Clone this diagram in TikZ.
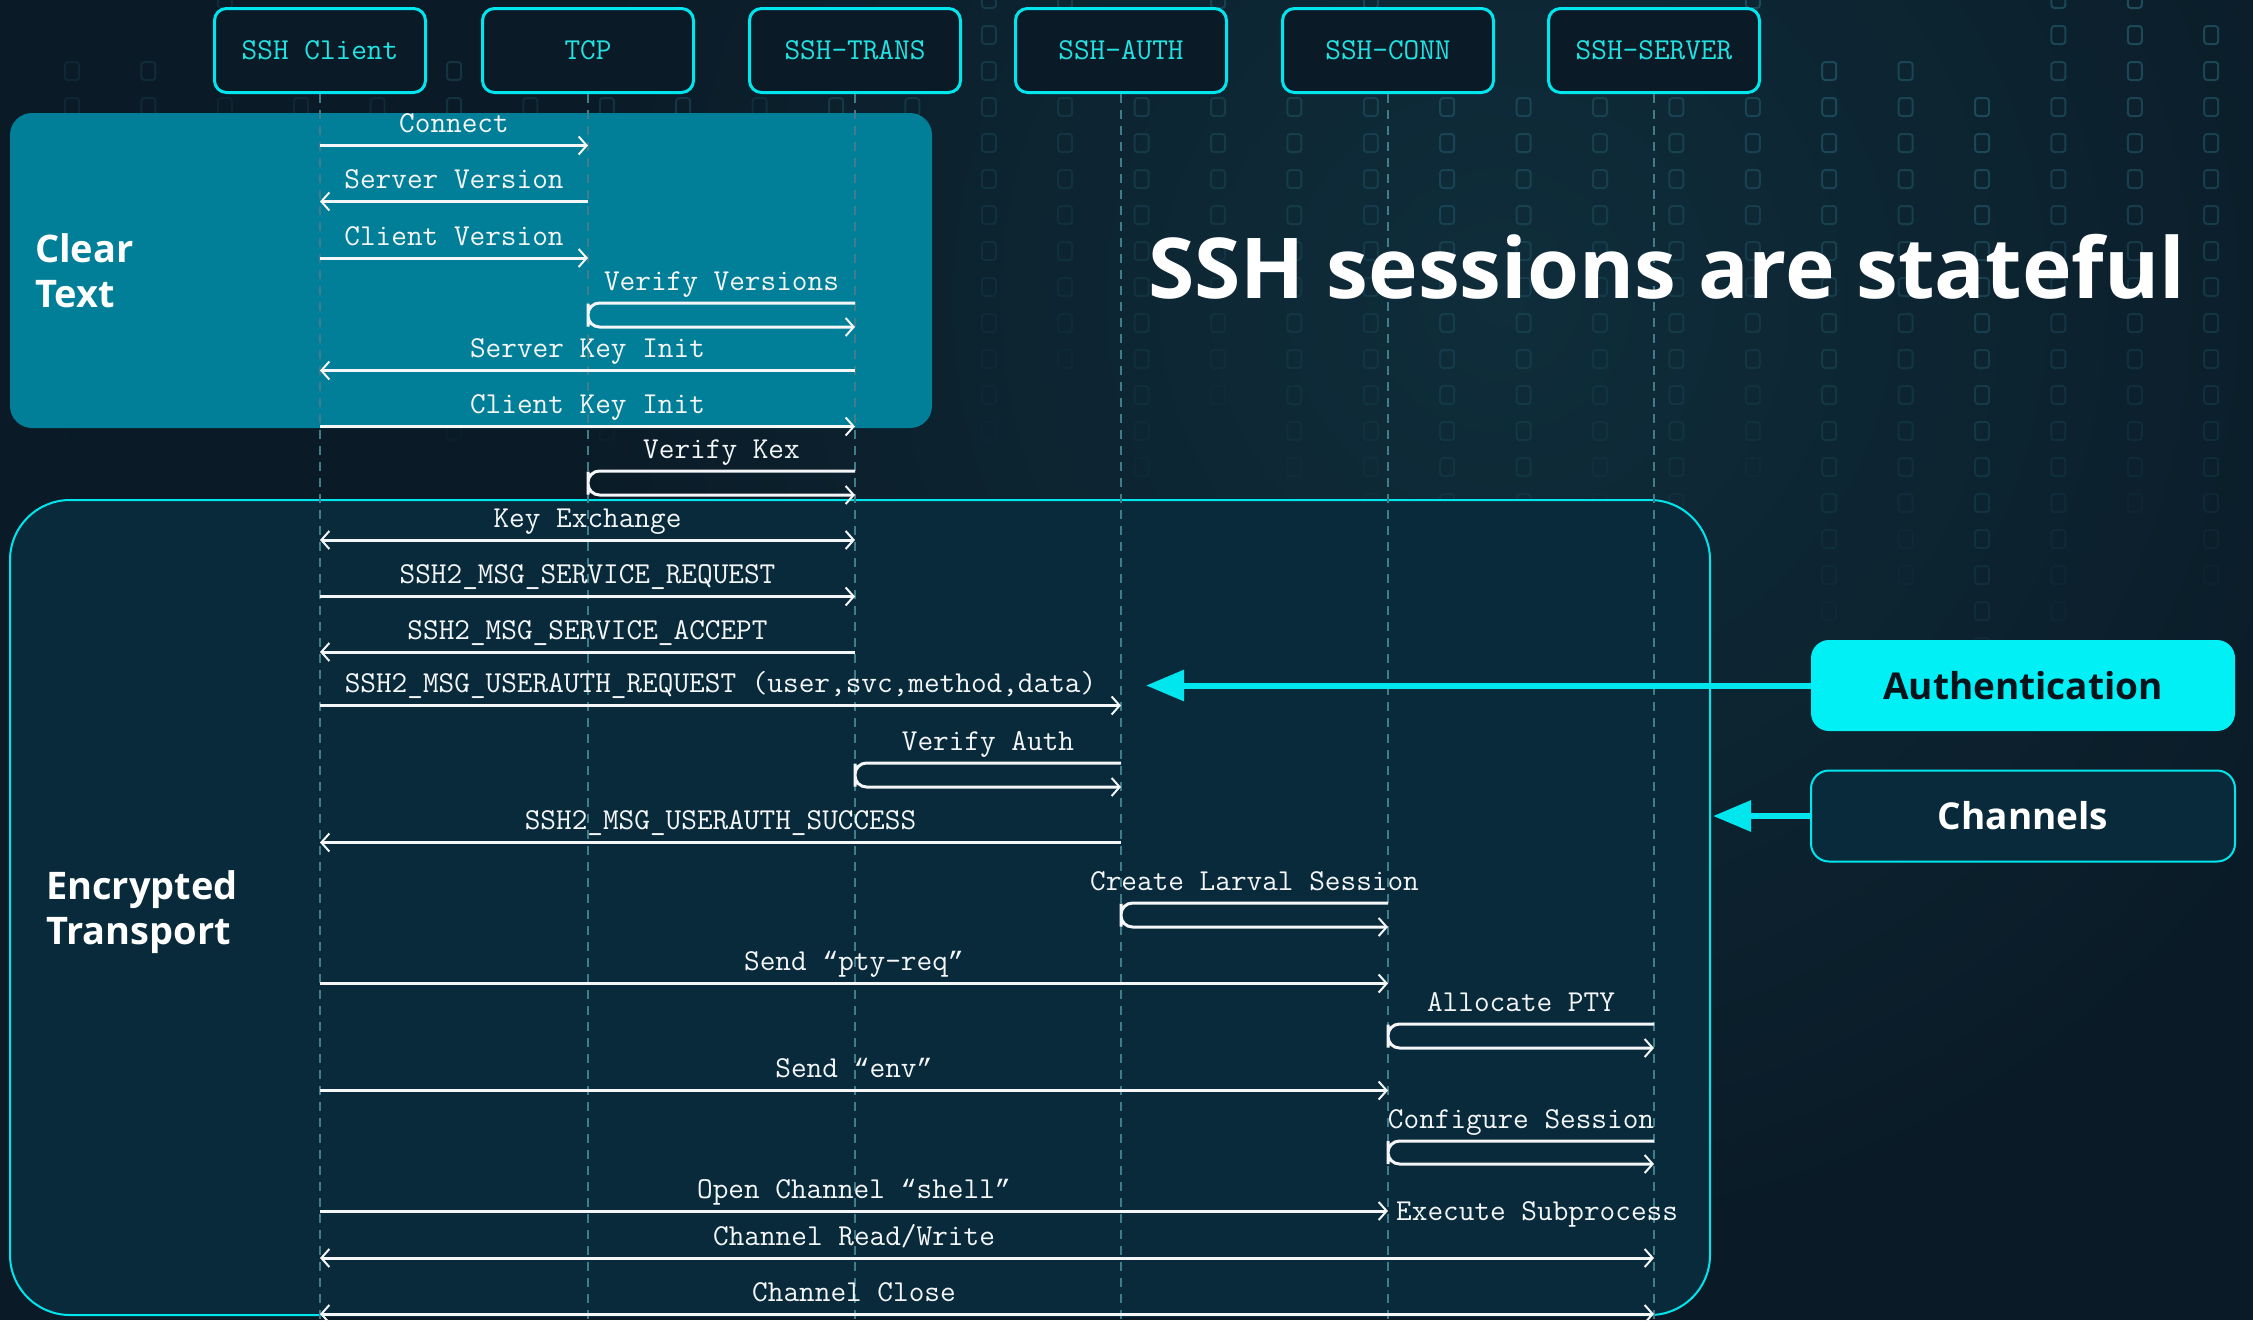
\documentclass[tikz,border=0pt]{standalone}
\usepackage{fontspec}
\setmainfont{Open Sans}
\newfontfamily\qtfont{Liberation Mono}
\usetikzlibrary{arrows.meta,calc}
\definecolor{bgdark}{HTML}{0A1A26}
\definecolor{bgglow}{HTML}{0F2D3B}
\definecolor{clearfill}{HTML}{017F98}
\definecolor{encfill}{HTML}{082A3B}
\definecolor{cyanline}{HTML}{00E6EE}
\definecolor{cyantext}{HTML}{22E2E2}
\definecolor{authfill}{HTML}{00F0F6}
\definecolor{lifecol}{HTML}{3F7D8A}
\definecolor{msgwhite}{HTML}{F4F6F7}
\definecolor{darktext}{HTML}{07141C}
\definecolor{raincol}{HTML}{2E7486}
\newcommand\monosize{\ttfamily\fontsize{30.4}{34}\selectfont}
\newcommand\oqt{{\qtfont\fontsize{26.6}{30}\selectfont “}}
\newcommand\cqt{{\qtfont\fontsize{26.6}{30}\selectfont ”}}
\tikzset{
  partbox/.style={draw=cyanline, line width=3pt, rounded corners=12pt,
    minimum width=211pt, minimum height=84pt, fill=bgdark, text=cyantext,
    font=\monosize, inner sep=0pt},
  lifeline/.style={lifecol, line width=1.5pt, dash pattern=on 9pt off 7pt},
  msg/.style={msgwhite, line width=3pt, ->},
  msgboth/.style={msgwhite, line width=3pt, <->},
  loopmsg/.style={msgwhite, line width=3pt, ->, rounded corners=11.5pt},
  lbl/.style={text=msgwhite, font=\monosize, anchor=base, inner sep=0pt, yshift=13pt},
  zonelbl/.style={text=white, font=\bfseries\fontsize{38}{45}\selectfont,
    align=left, anchor=north west, inner sep=0pt},
  sidebox/.style={minimum width=424pt, minimum height=91pt, rounded corners=18pt,
    font=\bfseries\fontsize{37}{45}\selectfont, inner sep=0pt},
  bigarrow/.style={cyanline, line width=6pt, -{Triangle[length=38pt,width=30pt]}},
  rainsq/.style={raincol, line width=2pt, rounded corners=3pt}
}
\begin{document}
\begin{tikzpicture}[x=1pt,y=-1pt,
  >={Straight Barb[length=8pt,width=18pt,line width=2pt]}]
\useasboundingbox (0,0) rectangle (2253,1320);
\fill[bgdark] (0,0) rectangle (2253,1320);
\shade[inner color=bgglow, outer color=bgdark] (1500,300) circle (1000pt);

% faint background "digital rain"
\pgfmathsetseed{11}
\foreach \c in {0,...,28}{
  \pgfmathsetmacro\cx{72+76.4*\c}
  \pgfmathsetmacro\ystart{-10+int(rnd*4)*36}
  \pgfmathtruncatemacro\nrow{5+int(rnd*6)+int(\c/3)}
  \pgfmathsetmacro\base{0.12+0.12*rnd+0.012*\c}
  \foreach \r in {0,...,\nrow}{
    \pgfmathsetmacro\op{\base*(1-\r/(\nrow+2))}
    \draw[rainsq, opacity=\op] (\cx-7,\ystart+36*\r) rectangle ++(14,18);
  }
}

% zones
\fill[clearfill, rounded corners=22pt] (10,113) rectangle (932,428);
\draw[cyanline, line width=2pt, fill=encfill, rounded corners=60pt] (10,500) rectangle (1710,1315);

% participants
\node[partbox] (client) at (320,50.5) {SSH Client};
\node[partbox] (tcp)    at (588,50.5) {TCP};
\node[partbox] (trans)  at (855,50.5) {SSH-TRANS};
\node[partbox] (auth)   at (1121,50.5) {SSH-AUTH};
\node[partbox] (conn)   at (1388,50.5) {SSH-CONN};
\node[partbox] (server) at (1654,50.5) {SSH-SERVER};

\foreach \p in {client,tcp,trans,auth,conn,server}{
  \coordinate (\p end) at (\p |- 0,1320);
  \draw[lifeline] (\p.south) -- (\p end);
}

% zone labels
\node[zonelbl] (cleartext) at (35,233) {Clear\\Text};
\node[zonelbl] (enctext) at (46,870) {Encrypted\\Transport};

% messages
\draw[msg] (client |- 0,145.5) -- node[lbl]{Connect} (tcp |- 0,145.5);
\draw[msg] (tcp |- 0,201.5) -- node[lbl]{Server Version} (client |- 0,201.5);
\draw[msg] (client |- 0,258) -- node[lbl]{Client Version} (tcp |- 0,258);
\path (tcp |- 0,303) -- node[lbl]{Verify Versions} (trans |- 0,303);
\draw[loopmsg] (trans |- 0,303) -| (tcp |- 0,315) |- (trans |- 0,327);
\draw[msg] (trans |- 0,370.5) -- node[lbl]{Server Key Init} (client |- 0,370.5);
\draw[msg] (client |- 0,426.5) -- node[lbl]{Client Key Init} (trans |- 0,426.5);
\path (tcp |- 0,471) -- node[lbl]{Verify Kex} (trans |- 0,471);
\draw[loopmsg] (trans |- 0,471) -| (tcp |- 0,483) |- (trans |- 0,495);
\draw[msgboth] (client |- 0,540) -- node[lbl]{Key Exchange} (trans |- 0,540);
\draw[msg] (client |- 0,596.5) -- node[lbl]{SSH2\_MSG\_SERVICE\_REQUEST} (trans |- 0,596.5);
\draw[msg] (trans |- 0,652) -- node[lbl]{SSH2\_MSG\_SERVICE\_ACCEPT} (client |- 0,652);
\draw[msg] (client |- 0,705.5) -- node[lbl]{SSH2\_MSG\_USERAUTH\_REQUEST (user,svc,method,data)} (auth |- 0,705.5);
\path (trans |- 0,763) -- node[lbl]{Verify Auth} (auth |- 0,763);
\draw[loopmsg] (auth |- 0,763) -| (trans |- 0,775) |- (auth |- 0,787);
\draw[msg] (auth |- 0,842.5) -- node[lbl]{SSH2\_MSG\_USERAUTH\_SUCCESS} (client |- 0,842.5);
\path (auth |- 0,903) -- node[lbl]{Create Larval Session} (conn |- 0,903);
\draw[loopmsg] (conn |- 0,903) -| (auth |- 0,915) |- (conn |- 0,927);
\draw[msg] (client |- 0,983.5) -- node[lbl]{Send \oqt pty-req\cqt} (conn |- 0,983.5);
\path (conn |- 0,1024) -- node[lbl]{Allocate PTY} (server |- 0,1024);
\draw[loopmsg] (server |- 0,1024) -| (conn |- 0,1036) |- (server |- 0,1048);
\draw[msg] (client |- 0,1090.5) -- node[lbl]{Send \oqt env\cqt} (conn |- 0,1090.5);
\path (conn |- 0,1141) -- node[lbl]{Configure Session} (server |- 0,1141);
\draw[loopmsg] (server |- 0,1141) -| (conn |- 0,1152.5) |- (server |- 0,1164);
\draw[msg] (client |- 0,1211) -- node[lbl]{Open Channel \oqt shell\cqt} (conn |- 0,1211);
\node[text=msgwhite, font=\monosize, anchor=base west, inner sep=0pt, xshift=8pt] (exec) at (conn |- 0,1220.5) {Execute Subprocess};
\draw[msgboth] (client |- 0,1258) -- (server |- 0,1258);
\path (client |- 0,1258) -- node[lbl]{Channel Read/Write} (conn |- 0,1258);
\draw[msgboth] (client |- 0,1314) -- (server |- 0,1314);
\path (client |- 0,1314) -- node[lbl]{Channel Close} (conn |- 0,1314);

% title
\node[anchor=base west, inner sep=0pt, text=white, font=\bfseries\fontsize{84}{96}\selectfont] (title) at (1148,298) {SSH sessions are stateful};

% side boxes
\node[sidebox, fill=authfill, text=darktext] (authbox) at (2023,685.5) {Authentication};
\node[sidebox, fill=encfill, draw=cyanline, line width=2pt, text=white] (chanbox) at (2023,816) {Channels};
\coordinate (authtip) at (1146,685.5);
\coordinate (chantip) at (1713,816);
\draw[bigarrow] (authbox.west) -- (authtip);
\draw[bigarrow] (chanbox.west) -- (chantip);
\end{tikzpicture}
\end{document}
